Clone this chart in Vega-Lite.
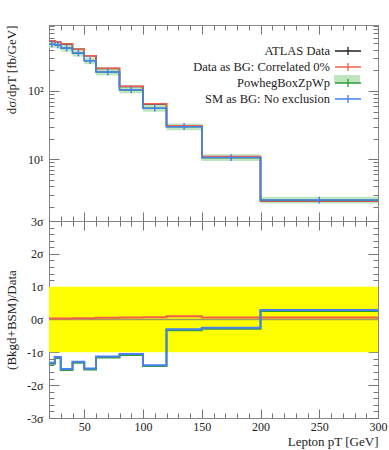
{
  "$schema": "https://vega.github.io/schema/vega-lite/v6.json",
  "padding": {"left": 4, "top": 24, "right": 3, "bottom": 3},
  "background": "white",
  "config": {
    "font": "Liberation Serif",
    "view": {"stroke": "#888", "strokeWidth": 1},
    "axis": {"grid": false, "domain": false, "tickColor": "#777", "tickWidth": 1, "labelFont": "Liberation Serif", "titleFont": "Liberation Serif", "labelFontSize": 12, "titleFontSize": 13, "labelColor": "#222", "titleColor": "#222", "titleFontWeight": "normal", "labelFlush": false}
  },
  "datasets": {
    "h": [
      {"i":0,"lo":20,"hi":25,"c":22.5,"d":540,"r":543,"g":483,"b":485,"glo":431,"ghi":541,"blo":433,"bhi":543,"rr":0.03,"rg":-1.35,"rb":-1.32},
      {"i":1,"lo":25,"hi":30,"c":27.5,"d":515,"r":518,"g":473,"b":475,"glo":422,"ghi":530,"blo":424,"bhi":532,"rr":0.03,"rg":-1.17,"rb":-1.14},
      {"i":2,"lo":30,"hi":40,"c":35,"d":487,"r":490,"g":423,"b":425,"glo":378,"ghi":474,"blo":379,"bhi":476,"rr":0.03,"rg":-1.54,"rb":-1.51},
      {"i":3,"lo":40,"hi":50,"c":45,"d":408,"r":410,"g":357,"b":359,"glo":319,"ghi":400,"blo":321,"bhi":402,"rr":0.04,"rg":-1.32,"rb":-1.29},
      {"i":4,"lo":50,"hi":60,"c":55,"d":327,"r":329,"g":277,"b":278,"glo":247,"ghi":310,"blo":248,"bhi":311,"rr":0.04,"rg":-1.52,"rb":-1.49},
      {"i":5,"lo":60,"hi":80,"c":70,"d":214,"r":215,"g":189,"b":190,"glo":169,"ghi":212,"blo":170,"bhi":213,"rr":0.05,"rg":-1.16,"rb":-1.13},
      {"i":6,"lo":80,"hi":100,"c":90,"d":116.5,"r":117,"g":103.5,"b":104,"glo":92.4,"ghi":115.9,"blo":92.9,"bhi":116.5,"rr":0.06,"rg":-1.08,"rb":-1.05},
      {"i":7,"lo":100,"hi":120,"c":110,"d":64.7,"r":65,"g":55.7,"b":56,"glo":49.7,"ghi":62.4,"blo":50.0,"bhi":62.7,"rr":0.07,"rg":-1.42,"rb":-1.39},
      {"i":8,"lo":120,"hi":150,"c":135,"d":30.9,"r":31.1,"g":29.85,"b":30.0,"glo":26.65,"ghi":33.43,"blo":26.8,"bhi":33.6,"rr":0.10,"rg":-0.33,"rb":-0.30},
      {"i":9,"lo":150,"hi":200,"c":175,"d":10.9,"r":10.95,"g":10.55,"b":10.6,"glo":9.42,"ghi":11.82,"blo":9.46,"bhi":11.87,"rr":0.06,"rg":-0.28,"rb":-0.25},
      {"i":10,"lo":200,"hi":300,"c":250,"d":2.45,"r":2.46,"g":2.52,"b":2.53,"glo":2.25,"ghi":2.82,"blo":2.26,"bhi":2.83,"rr":0.06,"rg":0.26,"rb":0.29}
    ],
    "band": [{"x0":20,"x1":300,"lo":-1,"hi":1,"zero":0}]
  },
  "spacing": 0,
  "bounds": "flush",
  "vconcat": [
    {
      "width": 329,
      "height": 196,
      "resolve": {"axis": {"x": "independent", "y": "independent"}},
      "layer": [
        {
          "data": {"name": "h"},
          "mark": {"type": "rect", "opacity": 0.85},
          "encoding": {
            "x": {"field": "lo", "type": "quantitative", "scale": {"domain": [20, 300], "nice": false, "zero": false},
                  "axis": {"orient": "bottom", "values": [50,100,150,200,250,300], "labels": false, "tickSize": -9, "title": null}},
            "x2": {"field": "hi"},
            "y": {"field": "glo", "type": "quantitative", "scale": {"type": "log", "domain": [1.25, 925], "nice": false},
                  "axis": {"orient": "left", "values": [10, 100], "tickSize": -10, "labelPadding": 16, "labelExpr": "datum.value == 100 ? '10²' : '10¹'", "title": "dσ/dpT [fb/GeV]", "titleAnchor": "end", "titleX": -34, "titleBaseline": "alphabetic"}},
            "y2": {"field": "ghi"},
            "fill": {"datum": "PowhegBoxZpWp", "type": "nominal", "scale": {"domain": ["PowhegBoxZpWp"], "range": ["#b3e0b3"]},
                     "legend": {"orient": "none", "legendX": 291.5, "legendY": 47.5, "title": null, "symbolType": "M-2,-0.6H2V0.6H-2Z", "symbolSize": 169, "symbolStrokeWidth": 0, "labelExpr": "''", "padding": 0}}
          }
        },
        {
          "data": {"name": "h"},
          "transform": [{"fold": ["lo", "hi"], "as": ["edge", "xe"]}],
          "mark": {"type": "line", "strokeWidth": 1.5},
          "encoding": {
            "x": {"field": "xe", "type": "quantitative",
                  "axis": {"orient": "bottom", "values": [20,30,40,60,70,80,90,110,120,130,140,160,170,180,190,210,220,230,240,260,270,280,290], "labels": false, "tickSize": -5, "title": null}},
            "y": {"field": "d", "type": "quantitative",
                  "axis": {"orient": "left", "values": [2,3,4,5,6,7,8,9,20,30,40,50,60,70,80,90,200,300,400,500,600,700,800,900], "labels": false, "tickSize": -5, "title": null}},
            "order": [{"field": "xe", "type": "quantitative"}, {"field": "i", "type": "quantitative"}],
            "stroke": {"datum": "ATLAS Data", "type": "nominal",
                       "scale": {"domain": ["ATLAS Data", "Data as BG: Correlated 0%", "PowhegBoxZpWp", "SM as BG: No exclusion"], "range": ["#222222", "#f0604c", "#2e9e3a", "#4a7ff0"]},
                       "legend": {"orient": "none", "legendX": 291.5, "legendY": 18.5, "title": null, "symbolType": "M-2,0H2M0,-0.6V0.6", "symbolSize": 169, "symbolStrokeWidth": 1.3, "labelAlign": "right", "labelOffset": -25.5, "labelFont": "Liberation Serif", "labelFontSize": 12.5, "labelColor": "#222", "labelLimit": 300, "rowPadding": 2, "padding": 0}}
          }
        },
        {
          "data": {"name": "h"},
          "transform": [{"fold": ["lo", "hi"], "as": ["edge", "xe"]}],
          "mark": {"type": "line", "strokeWidth": 1.5},
          "encoding": {
            "x": {"field": "xe", "type": "quantitative",
                  "axis": {"orient": "top", "values": [50,100,150,200,250,300], "labels": false, "tickSize": -9, "title": null}},
            "y": {"field": "r", "type": "quantitative",
                  "axis": {"orient": "right", "values": [10, 100], "labels": false, "tickSize": -10, "title": null}},
            "order": [{"field": "xe", "type": "quantitative"}, {"field": "i", "type": "quantitative"}],
            "stroke": {"datum": "Data as BG: Correlated 0%", "type": "nominal"}
          }
        },
        {
          "data": {"name": "h"},
          "transform": [{"fold": ["lo", "hi"], "as": ["edge", "xe"]}],
          "mark": {"type": "line", "strokeWidth": 1.5},
          "encoding": {
            "x": {"field": "xe", "type": "quantitative",
                  "axis": {"orient": "top", "values": [20,30,40,60,70,80,90,110,120,130,140,160,170,180,190,210,220,230,240,260,270,280,290], "labels": false, "tickSize": -5, "title": null}},
            "y": {"field": "g", "type": "quantitative",
                  "axis": {"orient": "right", "values": [2,3,4,5,6,7,8,9,20,30,40,50,60,70,80,90,200,300,400,500,600,700,800,900], "labels": false, "tickSize": -5, "title": null}},
            "order": [{"field": "xe", "type": "quantitative"}, {"field": "i", "type": "quantitative"}],
            "stroke": {"datum": "PowhegBoxZpWp", "type": "nominal"}
          }
        },
        {
          "data": {"name": "h"},
          "transform": [{"fold": ["lo", "hi"], "as": ["edge", "xe"]}],
          "mark": {"type": "line", "strokeWidth": 1.5},
          "encoding": {
            "x": {"field": "xe", "type": "quantitative", "axis": null},
            "y": {"field": "b", "type": "quantitative", "axis": null},
            "order": [{"field": "xe", "type": "quantitative"}, {"field": "i", "type": "quantitative"}],
            "stroke": {"datum": "SM as BG: No exclusion", "type": "nominal"}
          }
        },
        {
          "data": {"name": "h"},
          "mark": {"type": "rule", "strokeWidth": 1.5, "color": "#4a7ff0"},
          "encoding": {
            "x": {"field": "c", "type": "quantitative", "axis": null},
            "y": {"field": "blo", "type": "quantitative", "axis": null},
            "y2": {"field": "bhi"}
          }
        }
      ]
    },
    {
      "width": 329,
      "height": 197,
      "resolve": {"axis": {"x": "independent", "y": "independent"}},
      "layer": [
        {
          "data": {"name": "band"},
          "mark": {"type": "rect", "color": "#ffff00"},
          "encoding": {
            "x": {"field": "x0", "type": "quantitative", "scale": {"domain": [20, 300], "nice": false, "zero": false},
                  "axis": {"orient": "bottom", "values": [50,100,150,200,250,300], "tickSize": -9, "labelPadding": 12, "title": "Lepton pT [GeV]", "titleAnchor": "end", "titlePadding": 3}},
            "x2": {"field": "x1"},
            "y": {"field": "lo", "type": "quantitative", "scale": {"domain": [-3, 3], "nice": false, "zero": false},
                  "axis": {"orient": "left", "values": [-3,-2,-1,0,1,2,3], "tickSize": -10, "labelPadding": 16, "labelExpr": "datum.value + 'σ'", "title": "(Bkgd+BSM)/Data", "titleX": -34, "titleBaseline": "alphabetic"}},
            "y2": {"field": "hi"}
          }
        },
        {
          "data": {"name": "band"},
          "mark": {"type": "rule", "color": "#777", "opacity": 0.7, "strokeWidth": 1.5},
          "encoding": {
            "y": {"field": "zero", "type": "quantitative",
                  "axis": {"orient": "left", "values": [-2.8,-2.6,-2.4,-2.2,-1.8,-1.6,-1.4,-1.2,-0.8,-0.6,-0.4,-0.2,0.2,0.4,0.6,0.8,1.2,1.4,1.6,1.8,2.2,2.4,2.6,2.8], "labels": false, "tickSize": -5, "title": null}}
          }
        },
        {
          "data": {"name": "h"},
          "transform": [{"fold": ["lo", "hi"], "as": ["edge", "xe"]}],
          "mark": {"type": "line", "strokeWidth": 2, "color": "#f0604c"},
          "encoding": {
            "x": {"field": "xe", "type": "quantitative",
                  "axis": {"orient": "bottom", "values": [20,30,40,60,70,80,90,110,120,130,140,160,170,180,190,210,220,230,240,260,270,280,290], "labels": false, "tickSize": -5, "title": null}},
            "y": {"field": "rr", "type": "quantitative",
                  "axis": {"orient": "right", "values": [-3,-2,-1,0,1,2,3], "labels": false, "tickSize": -10, "title": null}},
            "order": [{"field": "xe", "type": "quantitative"}, {"field": "i", "type": "quantitative"}]
          }
        },
        {
          "data": {"name": "h"},
          "transform": [{"fold": ["lo", "hi"], "as": ["edge", "xe"]}],
          "mark": {"type": "line", "strokeWidth": 2, "color": "#2e9e3a"},
          "encoding": {
            "x": {"field": "xe", "type": "quantitative",
                  "axis": {"orient": "top", "values": [50,100,150,200,250,300], "labels": false, "tickSize": -9, "title": null}},
            "y": {"field": "rg", "type": "quantitative",
                  "axis": {"orient": "right", "values": [-2.8,-2.6,-2.4,-2.2,-1.8,-1.6,-1.4,-1.2,-0.8,-0.6,-0.4,-0.2,0.2,0.4,0.6,0.8,1.2,1.4,1.6,1.8,2.2,2.4,2.6,2.8], "labels": false, "tickSize": -5, "title": null}},
            "order": [{"field": "xe", "type": "quantitative"}, {"field": "i", "type": "quantitative"}]
          }
        },
        {
          "data": {"name": "h"},
          "transform": [{"fold": ["lo", "hi"], "as": ["edge", "xe"]}],
          "mark": {"type": "line", "strokeWidth": 2, "color": "#4a7ff0"},
          "encoding": {
            "x": {"field": "xe", "type": "quantitative",
                  "axis": {"orient": "top", "values": [20,30,40,60,70,80,90,110,120,130,140,160,170,180,190,210,220,230,240,260,270,280,290], "labels": false, "tickSize": -5, "title": null}},
            "y": {"field": "rb", "type": "quantitative", "axis": null},
            "order": [{"field": "xe", "type": "quantitative"}, {"field": "i", "type": "quantitative"}]
          }
        }
      ]
    }
  ]
}
